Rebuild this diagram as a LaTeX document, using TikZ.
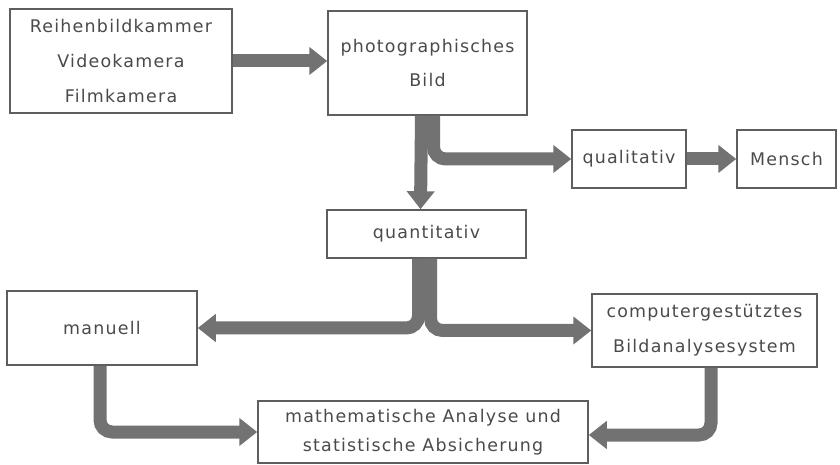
\documentclass[tikz,border=0pt]{standalone}
\usepackage{fontspec}
\setmainfont{DejaVu Sans}[LetterSpace=7]
\usetikzlibrary{arrows.meta}
\definecolor{inkgray}{HTML}{4A4A4A}
\definecolor{framegray}{HTML}{5E5E5E}
\definecolor{flowgray}{HTML}{727272}
\begin{document}
\begin{tikzpicture}[x=1bp,y=-1bp,
  box/.style={draw=framegray, line width=1.5bp, text=inkgray, align=center,
    inner sep=0pt, font=\fontsize{17.5}{35}\selectfont},
  tightbox/.style={box, font=\fontsize{17.5}{29}\selectfont},
  flow/.style={draw=flowgray, line width=13bp, rounded corners=12bp,
    -{Triangle[width=27bp,length=18bp]}}]
\useasboundingbox (0,0) rectangle (840,465);

% boxes
\node[box, minimum width=222bp, minimum height=104bp] (cams) at (121,61)
  {Reihenbildkammer\\Videokamera\\Filmkamera};
\node[box, minimum width=199bp, minimum height=104bp] (photo) at (427.5,63)
  {photographisches\\Bild};
\node[box, minimum width=114bp, minimum height=58bp] (qual) at (629,159)
  {qualitativ};
\node[box, minimum width=99bp, minimum height=58bp] (mensch) at (786.5,159)
  {Mensch};
\node[box, minimum width=199bp, minimum height=48bp] (quant) at (426.5,234)
  {quantitativ};
\node[box, minimum width=190bp, minimum height=74bp] (manuell) at (102,328)
  {manuell};
\node[box, minimum width=225bp, minimum height=73bp] (comp) at (704.5,330.5)
  {computergestütztes\\Bildanalysesystem};
\node[tightbox, minimum width=330bp, minimum height=62bp] (math) at (423,432)
  {mathematische Analyse und\\statistische Absicherung};

% flow arrows
\draw[flow] (cams.east) -- (cams.east -| photo.west);
\draw[flow] ([xshift=-6bp]photo.south) -- ([xshift=-6bp]quant.north);
\draw[flow] ([xshift=6bp]photo.south) |- (qual.west);
\draw[flow] (qual.east) -- (mensch.west);
\draw[flow] ([xshift=-8bp]quant.south) |- (manuell.east);
\draw[flow] ([xshift=4bp]quant.south) |- (comp.west);
\draw[flow] ([xshift=-2bp]manuell.south) |- (math.west);
\draw[flow] ([xshift=6.5bp]comp.south) |- ([yshift=-3bp]math.east);
\end{tikzpicture}
\end{document}
